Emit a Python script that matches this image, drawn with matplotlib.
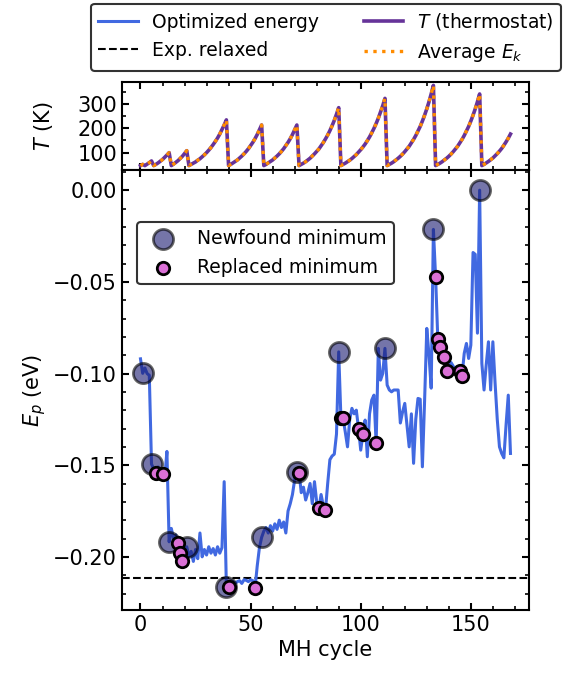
import matplotlib
matplotlib.use("Agg")
import matplotlib.pyplot as plt
from matplotlib.ticker import MultipleLocator

# optimized energy per MH cycle (eV)
e_opt = [
    -0.092, -0.0999, -0.097, -0.100, -0.101, -0.1494, -0.152, -0.154, -0.151, -0.156,
    -0.1546, -0.157, -0.1425, -0.1918, -0.1845, -0.190, -0.188, -0.1926, -0.1978, -0.2025,
    -0.196, -0.1945, -0.200, -0.197, -0.2025, -0.196, -0.201, -0.187, -0.200, -0.196,
    -0.199, -0.1945, -0.198, -0.1955, -0.199, -0.1945, -0.198, -0.195, -0.159, -0.2167,
    -0.2166, -0.214, -0.2135, -0.2145, -0.2135, -0.213, -0.2145, -0.2125, -0.2128, -0.2135,
    -0.2125, -0.213, -0.2172, -0.205, -0.195, -0.1894, -0.186, -0.184, -0.187, -0.183,
    -0.186, -0.182, -0.185, -0.180, -0.184, -0.181, -0.187, -0.175, -0.171, -0.166,
    -0.158, -0.1536, -0.154, -0.165, -0.162, -0.169, -0.165, -0.160, -0.171, -0.159,
    -0.170, -0.1736, -0.166, -0.172, -0.1745, -0.160, -0.147, -0.145, -0.144, -0.133,
    -0.0882, -0.124, -0.1245, -0.132, -0.140, -0.125, -0.119, -0.122, -0.120, -0.130,
    -0.1418, -0.133, -0.1254, -0.1454, -0.122, -0.1145, -0.1118, -0.138, -0.0863, -0.1036,
    -0.100, -0.0863, -0.1063, -0.109, -0.110, -0.109, -0.109, -0.109, -0.127, -0.121,
    -0.1163, -0.128, -0.140, -0.122, -0.149, -0.125, -0.1136, -0.114, -0.1509, -0.115,
    -0.0754, -0.090, -0.108, -0.0214, -0.0473, -0.0812, -0.0858, -0.088, -0.0909, -0.0985,
    -0.097, -0.094, -0.096, -0.099, -0.100, -0.0985, -0.1012, -0.089, -0.0836, -0.0918,
    -0.0845, -0.034, -0.035, -0.078, 0.0, -0.0945, -0.109, -0.095, -0.0827, -0.109,
    -0.0827, -0.105, -0.125, -0.140, -0.1436, -0.146, -0.128, -0.1118, -0.1436,
]

# thermostat temperature (K), the average Ek curve lies on top of it
t_thermo = [
    47, 52,
    47, 53, 59, 66,
    47, 52, 58, 65, 72, 81, 90, 100,
    47, 53, 60, 67, 76, 85, 96, 108,
    47, 52, 57, 62, 69, 75, 83, 91, 100, 110, 121, 133, 146, 160, 176, 194, 213, 234,
    47, 52, 58, 64, 70, 78, 86, 95, 105, 116, 129, 142, 157, 174, 193, 213,
    47, 52, 58, 64, 70, 78, 86, 95, 105, 116, 129, 142, 157, 174, 193, 213,
    47, 52, 57, 63, 70, 77, 86, 95, 105, 115, 128, 141, 156, 172, 190, 210, 232, 257, 284,
    47, 52, 57, 63, 69, 76, 84, 92, 102, 112, 123, 135, 149, 164, 181, 199, 219, 241, 266, 292, 322,
    47, 52, 57, 63, 70, 77, 85, 94, 104, 115, 126, 140, 154, 170, 188, 207, 229, 253, 279, 308, 340, 375,
    47, 52, 57, 63, 70, 77, 85, 94, 104, 115, 126, 140, 154, 170, 188, 207, 229, 253, 279, 308, 340,
    47, 52, 58, 64, 71, 78, 87, 96, 106, 117, 130, 144, 159, 176,
]
t_avg_ek = list(t_thermo)

newfound_cycle = [1, 5, 13, 21, 39, 55, 71, 90, 111, 133, 154]
newfound_e = [-0.0999, -0.1494, -0.1918, -0.1945, -0.2167, -0.1894, -0.1536, -0.0882, -0.0863, -0.0214, 0.0]

replaced_cycle = [7, 10, 17, 18, 19, 40, 52, 72, 81, 84, 91, 92, 99, 101, 107, 134, 135, 136, 138, 139, 145, 146]
replaced_e = [-0.154, -0.1546, -0.1926, -0.1978, -0.2025, -0.2166, -0.2172, -0.154, -0.1736, -0.1745,
              -0.124, -0.1245, -0.130, -0.133, -0.138, -0.0473, -0.0812, -0.0858, -0.0909, -0.0985,
              -0.0985, -0.1012]

e_exp_relaxed = -0.2116

cycles = list(range(len(e_opt)))

plt.rcParams['axes.linewidth'] = 1.5
plt.rcParams['font.size'] = 15

fig = plt.figure(figsize=(5.64, 6.73), dpi=100)
ax_t = fig.add_axes([0.2163, 0.7474, 0.7216, 0.1308])
ax = fig.add_axes([0.2163, 0.0936, 0.7216, 0.6538], sharex=ax_t)

# top panel: temperature
l_t, = ax_t.plot(cycles, t_thermo, color='rebeccapurple', lw=2.6)
l_ek, = ax_t.plot(cycles, t_avg_ek, color='darkorange', lw=2.4, ls=':')
ax_t.set_ylim(29, 389)
ax_t.set_ylabel('$T$ (K)')
ax_t.yaxis.set_label_coords(-0.165, 0.5)
ax_t.yaxis.set_major_locator(MultipleLocator(100))
ax_t.yaxis.set_minor_locator(MultipleLocator(50))
ax_t.tick_params(labelbottom=False)

# main panel: energies
l_e, = ax.plot(cycles, e_opt, color='royalblue', lw=2.2, zorder=2)
l_exp = ax.axhline(e_exp_relaxed, color='black', ls='--', lw=1.5, zorder=1)
sc_new = ax.scatter(newfound_cycle, newfound_e, s=210, color='midnightblue', edgecolors='black',
                    linewidths=2, alpha=0.6, zorder=3)
sc_rep = ax.scatter(replaced_cycle, replaced_e, s=80, color='orchid', edgecolors='black',
                    linewidths=2, zorder=4)
ax.set_xlim(-8.4, 176.4)
ax.set_ylim(-0.229, 0.011)
ax.set_xlabel('MH cycle')
ax.set_ylabel('$E_p$ (eV)')
ax.xaxis.set_major_locator(MultipleLocator(50))
ax.xaxis.set_minor_locator(MultipleLocator(10))
ax.yaxis.set_major_locator(MultipleLocator(0.05))
ax.yaxis.set_minor_locator(MultipleLocator(0.01))

for a in (ax_t, ax):
    a.tick_params(which='both', direction='in', top=True, right=True)
    a.tick_params(which='major', length=5, width=1.5)
    a.tick_params(which='minor', length=3, width=1.2)

leg2 = ax.legend([sc_new, sc_rep], ['Newfound minimum', 'Replaced minimum'],
                 loc='upper left', bbox_to_anchor=(0.037, 0.882), borderaxespad=0,
                 fontsize=13.5, fancybox=True, framealpha=1)
leg2.get_frame().set_edgecolor('#333333')
leg2.get_frame().set_linewidth(1.5)

leg1 = fig.legend([l_e, l_exp, l_t, l_ek],
                  ['Optimized energy', 'Exp. relaxed', '$T$ (thermostat)', 'Average $E_k$'],
                  ncol=2, loc='lower left', bbox_to_anchor=(0.161, 0.8945), borderaxespad=0,
                  fontsize=13.5, handlelength=2.1, handletextpad=0.75, columnspacing=2.4,
                  fancybox=True, framealpha=1)
leg1.get_frame().set_edgecolor('#333333')
leg1.get_frame().set_linewidth(1.5)

plt.savefig('out.png', dpi=100)
